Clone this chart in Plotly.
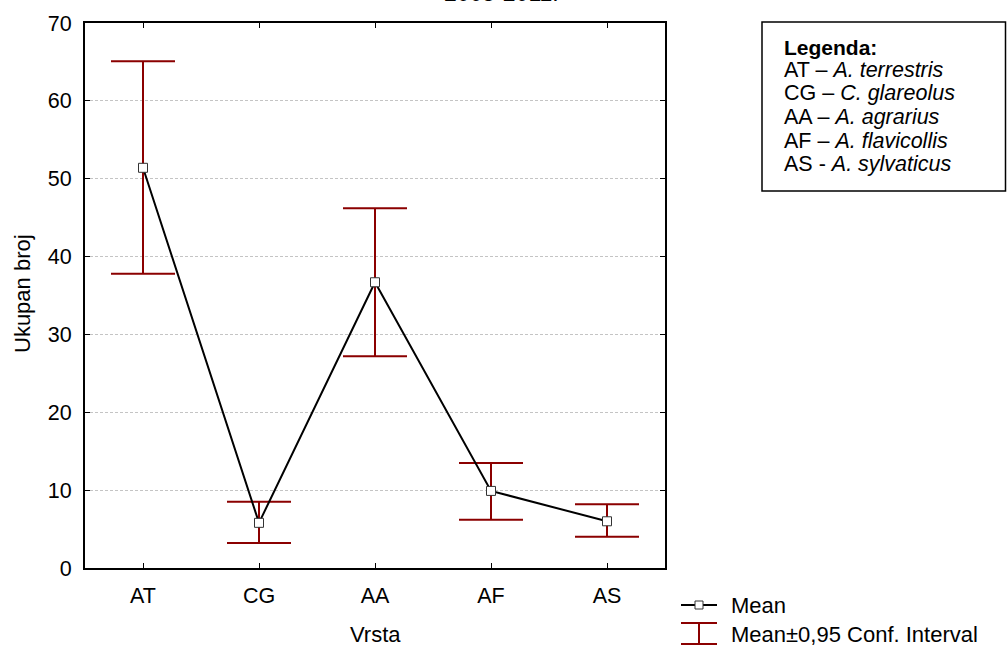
import plotly.graph_objects as go

# ---- data ----
categories = ["AT", "CG", "AA", "AF", "AS"]
means = [51.4, 5.8, 36.7, 9.9, 6.0]
ci_upper = [65.1, 8.5, 46.2, 13.5, 8.2]
ci_lower = [37.8, 3.2, 27.2, 6.2, 4.0]
y_ticks = [0, 10, 20, 30, 40, 50, 60, 70]
legend_lines = ["AT – <i>A. terrestris</i>", "CG – <i>C. glareolus</i>",
                "AA – <i>A. agrarius</i>", "AF – <i>A. flavicollis</i>",
                "AS - <i>A. sylvaticus</i>"]

W, H = 1007, 646
L, R, T, B = 85, 665, 23, 568
FONT = "Liberation Sans, Arial, sans-serif"
RED = "#8b0000"
FS = 22

def px(x):
    return (x - L) / (R - L)

def py(y):
    return (B - y) / (B - T)

err_plus = [u - m for u, m in zip(ci_upper, means)]
err_minus = [m - l for m, l in zip(means, ci_lower)]

fig = go.Figure()
fig.add_trace(go.Scatter(
    x=categories, y=means, mode="markers",
    marker=dict(size=1, color="rgba(0,0,0,0)"),
    error_y=dict(type="data", symmetric=False, array=err_plus, arrayminus=err_minus,
                 color=RED, thickness=2, width=32),
    showlegend=False, hoverinfo="skip"))
fig.add_trace(go.Scatter(
    x=categories, y=means, mode="lines+markers",
    line=dict(color="black", width=2),
    marker=dict(symbol="square", size=9, color="white",
                line=dict(color="#333333", width=1)),
    showlegend=False, name="Mean"))

fig.update_layout(
    width=W, height=H,
    margin=dict(l=L, r=W - R, t=T, b=H - B),
    paper_bgcolor="white", plot_bgcolor="white",
    font=dict(family=FONT, size=FS, color="black"),
    xaxis=dict(type="category", categoryorder="array", categoryarray=categories,
               range=[-0.5, len(categories) - 0.5],
               showgrid=False, zeroline=False,
               showline=True, linecolor="black", linewidth=2, mirror="ticks",
               ticks="inside", ticklen=5, tickcolor="black", tickwidth=1,
               ticklabelstandoff=7, tickfont=dict(size=21.5)),
    yaxis=dict(range=[0, 70], tickvals=y_ticks,
               showgrid=True, gridcolor="#c4c4c4", griddash="3px,2px", gridwidth=1,
               zeroline=False,
               showline=True, linecolor="black", linewidth=2, mirror="ticks",
               ticks="inside", ticklen=5, tickcolor="black", tickwidth=1,
               ticklabelstandoff=7, tickfont=dict(size=21.5)),
)

shapes = []
annotations = []

# axis titles
annotations.append(dict(xref="paper", yref="paper", x=px(375), y=py(634),
                        xanchor="center", yanchor="middle", showarrow=False,
                        text="Vrsta", font=dict(size=FS)))
annotations.append(dict(xref="paper", yref="paper", x=px(22), y=py(294),
                        xanchor="center", yanchor="middle", showarrow=False,
                        textangle=-90, text="Ukupan broj", font=dict(size=FS)))

# cut-off title at the top (only its lower edge shows, as in the reference)
annotations.append(dict(xref="paper", yref="paper", x=px(501), y=py(8.5),
                        xanchor="center", yanchor="bottom", showarrow=False,
                        text="2005-2011.", font=dict(size=23)))

# "Legenda" box
shapes.append(dict(type="rect", xref="paper", yref="paper",
                   x0=px(762), x1=px(1005.5), y0=py(191), y1=py(22),
                   line=dict(color="black", width=1.5), fillcolor="white"))
annotations.append(dict(xref="paper", yref="paper", x=px(782), y=py(47),
                        xanchor="left", yanchor="middle", showarrow=False,
                        text="<b>Legenda:</b>", font=dict(size=21)))
for i, t in enumerate(legend_lines):
    annotations.append(dict(xref="paper", yref="paper", x=px(782), y=py(70 + 23.5 * i),
                            xanchor="left", yanchor="middle", showarrow=False,
                            text=t, font=dict(size=21.5)))

# bottom-right legend: Mean
shapes.append(dict(type="line", xref="paper", yref="paper",
                   x0=px(681), x1=px(717), y0=py(605), y1=py(605),
                   line=dict(color="black", width=2)))
shapes.append(dict(type="rect", xref="paper", yref="paper",
                   x0=px(695), x1=px(703), y0=py(609), y1=py(601),
                   line=dict(color="#333333", width=1), fillcolor="white"))
annotations.append(dict(xref="paper", yref="paper", x=px(729), y=py(605),
                        xanchor="left", yanchor="middle", showarrow=False,
                        text="Mean", font=dict(size=FS)))
# bottom-right legend: CI
for yy in (623, 644):
    shapes.append(dict(type="line", xref="paper", yref="paper",
                       x0=px(681), x1=px(717), y0=py(yy), y1=py(yy),
                       line=dict(color=RED, width=2)))
shapes.append(dict(type="line", xref="paper", yref="paper",
                   x0=px(699), x1=px(699), y0=py(623), y1=py(644),
                   line=dict(color=RED, width=2)))
annotations.append(dict(xref="paper", yref="paper", x=px(729), y=py(634),
                        xanchor="left", yanchor="middle", showarrow=False,
                        text="Mean±0,95 Conf. Interval", font=dict(size=FS)))

fig.update_layout(shapes=shapes, annotations=annotations)
fig.write_html("out.html", config={"displayModeBar": False},
               post_script="document.body.style.margin='0';document.body.style.overflow='hidden';")
